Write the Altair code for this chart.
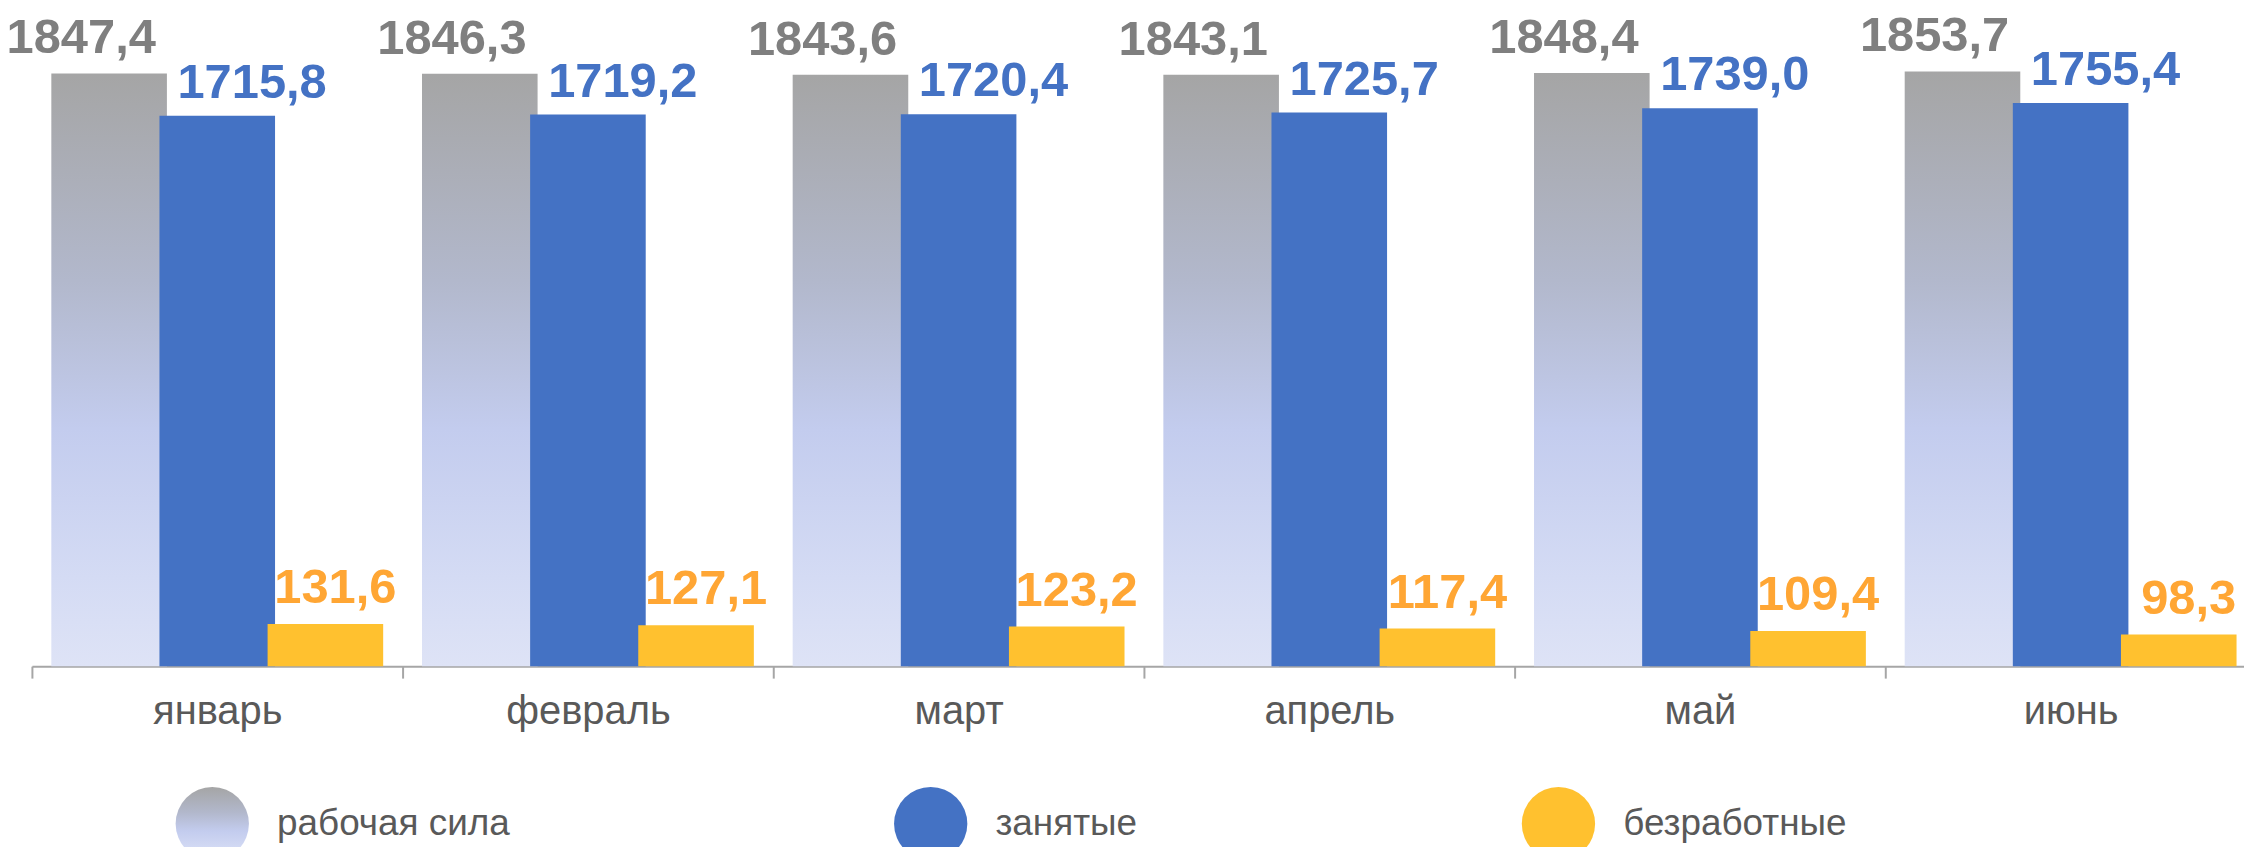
import altair as alt
import pandas as pd

months = ["январь", "февраль", "март", "апрель", "май", "июнь"]
series = ["рабочая сила", "занятые", "безработные"]
labor = [1847.4, 1846.3, 1843.6, 1843.1, 1848.4, 1853.7]
employed = [1715.8, 1719.2, 1720.4, 1725.7, 1739.0, 1755.4]
unemployed = [131.6, 127.1, 123.2, 117.4, 109.4, 98.3]

rows = []
for s, vals in zip(series, [labor, employed, unemployed]):
    for m, v in zip(months, vals):
        rows.append({"month": m, "series": s, "value": v})
df = pd.DataFrame(rows)

FONT = "Liberation Sans"
GRAY_STOPS = [
    ("#A5A5A5", 0), ("#B2B8CC", 0.35), ("#C3CCEE", 0.6), ("#D4DBF4", 0.85), ("#DEE3F6", 1),
]
GRAY_GRAD = {
    "gradient": "linear", "x1": 0, "y1": 0, "x2": 0, "y2": 1,
    "stops": [{"offset": o, "color": c} for c, o in GRAY_STOPS],
}
BLUE = "#4472C4"
YELLOW = "#FFC12F"
GRAY_TXT = "#7F7F7F"
ORANGE_TXT = "#FFA634"

grad_expr = (
    "{gradient: 'linear', x1: 0, y1: 0, x2: 0, y2: 1, stops: ["
    + ", ".join("{offset: %s, color: '%s'}" % (o, c) for c, o in GRAY_STOPS)
    + "]}"
)
fill_expr = (
    "datum.value === '%s' ? %s : (datum.value === '%s' ? '%s' : '%s')"
    % (series[0], grad_expr, series[2], YELLOW, BLUE)
)

x_enc = alt.X(
    "month:N", sort=months, title=None,
    scale=alt.Scale(paddingInner=0, paddingOuter=0, range=[0, 2232]),
    axis=alt.Axis(
        labelAngle=0, labelFont=FONT, labelFontSize=40, labelColor="#595959",
        labelBaseline="alphabetic", labelPadding=46, labelLimit=400,
        domainColor="#A6A6A6", domainWidth=2, tickColor="#A6A6A6", tickWidth=2,
        tickSize=12, tickBand="extent", grid=False,
    ),
)
xo_enc = alt.XOffset(
    "series:N", sort=series,
    scale=alt.Scale(domain=series, paddingOuter=0.214, paddingInner=0),
)
y_enc = alt.Y("value:Q", axis=None, scale=alt.Scale(domain=[0, 2046.6], nice=False, zero=True))

base = alt.Chart(df)


def bars(name, color):
    return base.transform_filter(alt.datum.series == name).mark_bar(
        width=116, color=color, strokeWidth=0
    ).encode(x=x_enc, xOffset=xo_enc, y=y_enc)


def labels(name, color, dx, dy):
    return base.transform_filter(alt.datum.series == name).transform_calculate(
        label="replace(format(datum.value, '.1f'), '.', ',')"
    ).mark_text(
        font=FONT, fontSize=49, fontWeight="bold", baseline="alphabetic",
        align="center", dx=dx, dy=dy, color=color,
    ).encode(x=x_enc, xOffset=xo_enc, y=y_enc, text="label:N")


legend = alt.Legend(
    orient="none", legendX=144, legendY=780, direction="horizontal",
    title=None, symbolType="circle", symbolSize=5411, symbolStrokeWidth=0,
    symbolOpacity=1, symbolFillColor=alt.expr(fill_expr),
    labelFont=FONT, labelFontSize=37, labelColor="#595959",
    labelOffset=28, labelLimit=600, columnPadding=385,
)

legend_layer = base.transform_filter(alt.datum.month == months[0]).transform_calculate(
    s2="datum.series"
).mark_point(
    filled=True, opacity=0, size=1
).encode(
    x=x_enc, xOffset=xo_enc, y=y_enc,
    color=alt.Color("s2:N", legend=None),
    shape=alt.Shape(
        "series:N", sort=series,
        scale=alt.Scale(domain=series, range=["circle", "circle", "circle"]),
        legend=legend,
    ),
)

chart = alt.layer(
    bars(series[0], GRAY_GRAD),
    bars(series[1], BLUE),
    bars(series[2], YELLOW),
    labels(series[0], GRAY_TXT, -28, -20),
    labels(series[1], BLUE, 35, -18),
    labels(series[2], ORANGE_TXT, 10, -21),
    legend_layer,
).properties(
    width=2220, height=659,
    padding={"left": 24, "top": 0, "right": 0, "bottom": 180},
    autosize=alt.AutoSizeParams(type="none"),
).configure_view(strokeWidth=0)

chart.save("out.html", embed_options={"renderer": "svg", "actions": False})
